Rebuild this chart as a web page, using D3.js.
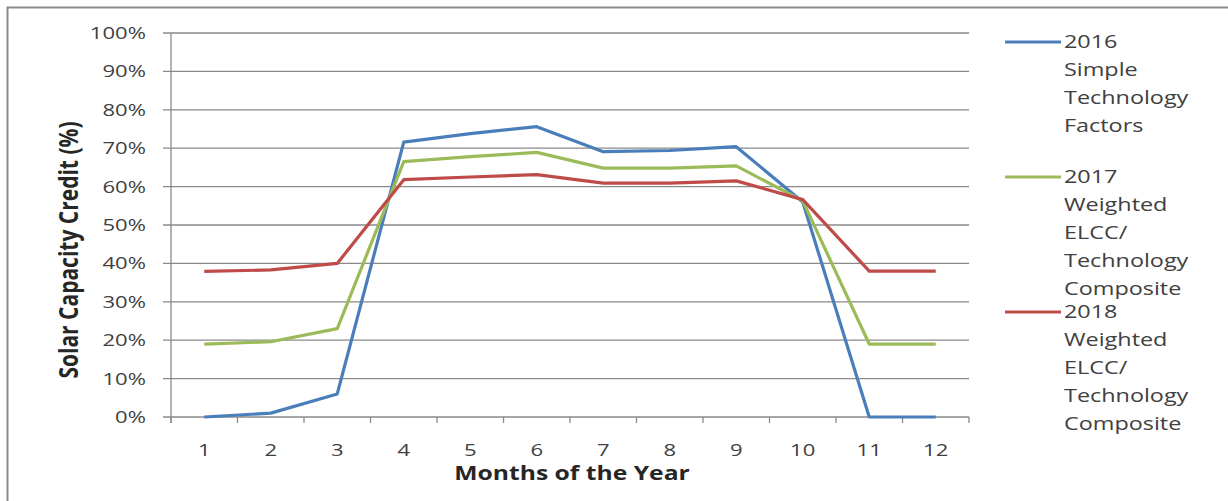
<!DOCTYPE html>
<html><head><meta charset="utf-8">
<script src="https://cdn.jsdelivr.net/npm/d3@7"></script>
<style>body{margin:0;background:#fff}svg{display:block}</style>
</head><body>
<script>
const months = [1,2,3,4,5,6,7,8,9,10,11,12];
const s2016 = [0,1,6,71.6,73.8,75.6,69.1,69.4,70.4,56,0,0];
const s2017 = [19,19.6,23,66.5,67.8,68.9,64.8,64.8,65.4,56.3,19,19];
const s2018 = [37.9,38.3,40,61.8,62.5,63.1,60.9,60.9,61.5,56.6,38,38];
const yTicks = [0,10,20,30,40,50,60,70,80,90,100];
const seriesNames = [
  ["2016","Simple","Technology","Factors"],
  ["2017","Weighted","ELCC/","Technology","Composite"],
  ["2018","Weighted","ELCC/","Technology","Composite"]
];
const seriesColors = ["#4A7EBB","#9BBB59","#BE4B48"];
const seriesValues = [s2016, s2017, s2018];

const W=1228,H=501;
const svg=d3.select("body").append("svg").attr("width",W).attr("height",H);
const font="'Open Sans', sans-serif";
const SX=1.3;
svg.append("rect").attr("x",7.5).attr("y",7.5).attr("width",1240).attr("height",520)
  .attr("fill","none").attr("stroke","#8c8c8c").attr("stroke-width",2);

const L=171,R=969,T=33,B=417;
const x=d3.scaleBand().domain(months).range([L,R]);
const y=d3.scaleLinear().domain([0,100]).range([B,T]);

// gridlines
svg.append("g").selectAll("line").data(yTicks).join("line")
  .attr("x1",L-8).attr("x2",R).attr("y1",d=>y(d)).attr("y2",d=>y(d))
  .attr("stroke","#8a8a8a").attr("stroke-width",1.3);
// y axis line
svg.append("line").attr("x1",L).attr("x2",L).attr("y1",T).attr("y2",B+6).attr("stroke","#8a8a8a").attr("stroke-width",1.3);
// x ticks at band boundaries
const bounds=months.map(m=>x(m)+x.bandwidth()).concat([L]);
svg.append("g").selectAll("line").data(bounds).join("line")
  .attr("x1",d=>d).attr("x2",d=>d).attr("y1",B).attr("y2",B+6)
  .attr("stroke","#8a8a8a").attr("stroke-width",1.3);

// y labels
svg.append("g").selectAll("text").data(yTicks).join("text")
  .attr("transform",d=>`translate(146,${y(d)}) scale(${SX},1)`).attr("dy","0.35em").attr("text-anchor","end")
  .attr("font-family",font).attr("font-size",17).attr("fill","#404040")
  .text(d=>d+"%");
// x labels
svg.append("g").selectAll("text").data(months).join("text")
  .attr("transform",d=>`translate(${x(d)+x.bandwidth()/2},450) scale(${SX},1)`).attr("dy","0.35em").attr("text-anchor","middle")
  .attr("font-family",font).attr("font-size",17).attr("fill","#404040")
  .text(d=>d);

// titles
svg.append("text").attr("transform",`translate(572,473) scale(${SX},1)`).attr("dy","0.35em").attr("text-anchor","middle")
  .attr("font-family",font).attr("font-size",19).attr("font-weight","bold").attr("fill","#262626")
  .text("Months of the Year");
svg.append("text").attr("transform",`translate(68,250) scale(${SX},1) rotate(-90)`).attr("dy","0.35em").attr("text-anchor","middle")
  .attr("font-family",font).attr("font-size",21).attr("font-weight","bold").attr("fill","#262626")
  .text("Solar Capacity Credit (%)");

// lines
const line=d3.line().x((d,i)=>x(months[i])+x.bandwidth()/2).y(d=>y(d));
seriesValues.forEach((vals,i)=>{
  svg.append("path").datum(vals).attr("d",line).attr("fill","none")
    .attr("stroke",seriesColors[i]).attr("stroke-width",3.2).attr("stroke-linejoin","round");
});

// legend
const legY=[42,177,312];
seriesNames.forEach((lines,i)=>{
  svg.append("line").attr("x1",1005).attr("x2",1061).attr("y1",legY[i]).attr("y2",legY[i])
    .attr("stroke",seriesColors[i]).attr("stroke-width",3.2);
  svg.append("g").selectAll("text").data(lines).join("text")
    .attr("transform",(d,j)=>`translate(1064,${legY[i]+j*27.8}) scale(${SX},1)`).attr("dy","0.35em")
    .attr("font-family",font).attr("font-size",18).attr("fill","#404040").text(d=>d);
});
</script>
</body></html>
